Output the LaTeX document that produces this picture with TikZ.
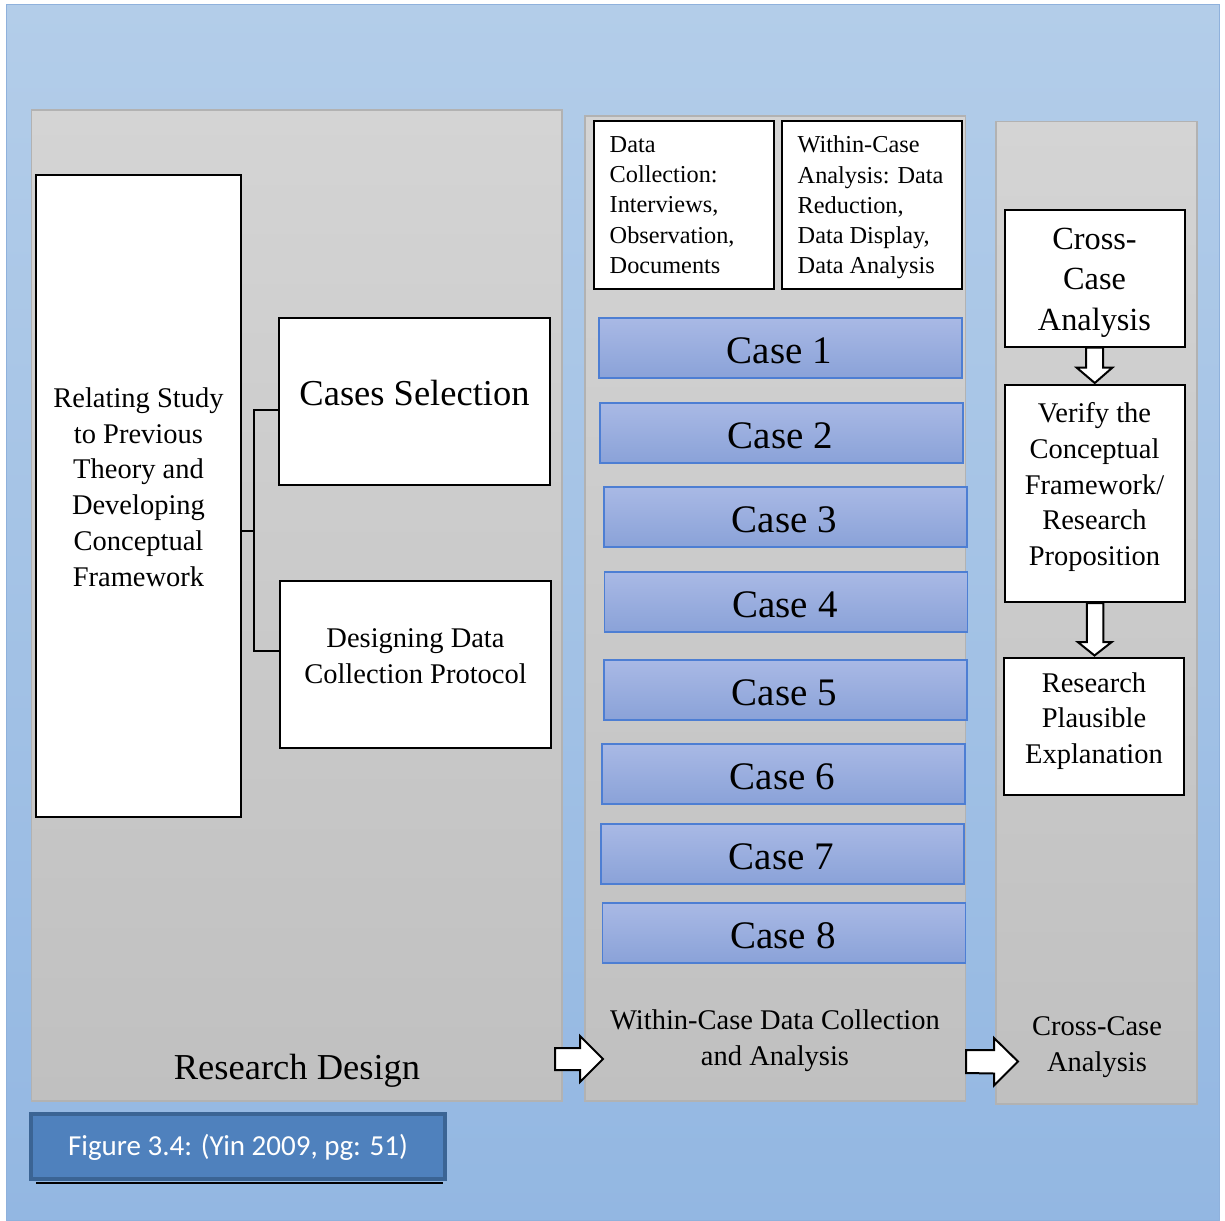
\documentclass[tikz,border=0pt]{standalone}
\usepackage{fontspec}
\setmainfont{Liberation Serif}
\newfontfamily\capfont{Carlito}
\usetikzlibrary{calc}

\definecolor{skyTop}{HTML}{B3CDE9}
\definecolor{skyBot}{HTML}{93B7E2}
\definecolor{skyEdge}{HTML}{8FB1DC}
\definecolor{panelTop}{HTML}{D4D4D4}
\definecolor{panelBot}{HTML}{C0C0C0}
\definecolor{panelEdge}{HTML}{B2B2B2}
\definecolor{caseTop}{HTML}{A9B9E5}
\definecolor{caseBot}{HTML}{8AA2D8}
\definecolor{caseEdge}{HTML}{4D7ED3}
\definecolor{capFill}{HTML}{4F81BD}
\definecolor{capEdge}{HTML}{3B6494}

\begin{document}
\begin{tikzpicture}[x=1pt,y=-1pt,
  backdrop/.style={draw=skyEdge, line width=1pt, top color=skyTop, bottom color=skyBot, inner sep=0pt},
  panel/.style={draw=panelEdge, line width=1.2pt, top color=panelTop, bottom color=panelBot, inner sep=0pt},
  wbox/.style={draw=black, line width=2pt, fill=white, inner sep=0pt},
  casebox/.style={draw=caseEdge, line width=1.2pt, top color=caseTop, bottom color=caseBot,
    inner sep=0pt, minimum width=363, minimum height=60},
  casetext/.style={inner sep=0pt, font=\fontsize{39}{46}\selectfont},
  txt/.style={align=center, inner sep=0pt},
  bodyfont/.style={font=\fontsize{28.5}{35.7}\selectfont},
  smallfont/.style={font=\fontsize{24.3}{30.3}\selectfont},
  bigfont/.style={font=\fontsize{36.5}{44}\selectfont},
  conn/.style={draw=black, line width=1.2pt},
  blockarrow/.style={draw=black, line width=2pt, fill=white, line join=miter},
]
\useasboundingbox (0,0) rectangle (1225,1220);
\fill[white] (0,0) rectangle (1225,1220);

% sky-blue backdrop
\node[backdrop, minimum width=1213, minimum height=1215] (bg) at (612.5,612.5) {};

% three stage panels
\node[panel, minimum width=530.5, minimum height=991] (p1) at (296.75,605.5) {};
\node[panel, minimum width=380.5, minimum height=985] (p2) at (775.25,608.5) {};
\node[panel, minimum width=201, minimum height=982.5] (p3) at (1096.5,612.75) {};

% research design boxes
\node[wbox, minimum width=205, minimum height=642] (rel) at (138.5,496) {};
\node[wbox, minimum width=271, minimum height=167] (cs) at (414.5,401.5) {};
\node[wbox, minimum width=271, minimum height=167] (dd) at (415.5,664.5) {};

% within-case boxes
\node[wbox, minimum width=180, minimum height=168] (dc) at (683.5,205) {};
\node[wbox, minimum width=180, minimum height=167.5] (wc) at (871.5,205.25) {};

% the eight cases
\foreach \n/\x/\y in {1/780.5/348, 2/781.5/433, 3/785.5/517, 4/786/602,
                      5/785.5/690, 6/783.5/774, 7/782.5/854, 8/784/933}{
  \node[casebox] (c\n) at (\x,\y) {};
  \node[casetext] (c\n T) at ($(c\n.center)+(-1,2.5)$) {Case \n};
}

% cross-case boxes
\node[wbox, minimum width=180, minimum height=137] (cc) at (1094.5,278) {};
\node[wbox, minimum width=179.5, minimum height=217.5] (ver) at (1094.75,493.25) {};
\node[wbox, minimum width=180.5, minimum height=137] (pl) at (1093.75,726) {};

% bracket joining the framework box to the two design steps
\coordinate (jt) at (254,410);
\coordinate (jm) at (254,531);
\coordinate (jb) at (254,651);
\draw[conn] (cs.west |- jt) -- (jt) -- (jb) -- (dd.west |- jb);
\draw[conn] (rel.east |- jm) -- (jm);

% block arrows inside the cross-case panel
\draw[blockarrow] ($(cc.south)+(-8.5,0)$) -- ++(0,20) -- ++(-9.5,0)
  -- ($(ver.north)+(0,-0.5)$) -- ($(cc.south)+(18,20)$) -- ++(-9.5,0) -- ($(cc.south)+(8.5,0)$) -- cycle;
\draw[blockarrow] ($(ver.south)+(-8,0)$) -- ++(0,39) -- ++(-9,0)
  -- ($(pl.north)+(0.75,-1)$) -- ($(ver.south)+(17,39)$) -- ++(-8.5,0) -- ($(ver.south)+(8.5,0)$) -- cycle;

% block arrows between the stages
\coordinate (a1) at (555,1059);
\coordinate (a2) at (966,1061.5);
\draw[blockarrow] ($(a1)+(0,-11)$) -- ++(25,0) -- ++(0,-12) -- ($(a1)+(48,0)$)
  -- ($(a1)+(25,23)$) -- ++(0,-12) -- ($(a1)+(0,11)$) -- cycle;
\draw[blockarrow] ($(a2)+(0,-11.5)$) -- ++(28,0) -- ++(0,-12) -- ($(a2)+(52,0)$)
  -- ($(a2)+(28,24)$) -- ++(0,-12) -- ($(a2)+(0,11.5)$) -- cycle;

% texts
\node[txt, bodyfont] (relT) at (138.5,487) {Relating Study\\to Previous\\Theory and\\Developing\\Conceptual\\Framework};
\node[txt, bigfont] (csT) at (414.5,393.5) {Cases Selection};
\node[txt, font=\fontsize{28.5}{36}\selectfont] (ddT) at (415.5,656) {Designing Data\\Collection Protocol};
\node[txt, smallfont, align=left, anchor=west] (dcT) at (609.5,205) {Data\\Collection:\\Interviews,\\Observation,\\Documents};
\node[txt, smallfont, align=left, anchor=west] (wcT) at (797.5,207.5) {Within-Case\\Analysis: Data\\Reduction,\\Data Display,\\Data Analysis};
\node[txt, font=\fontsize{32.3}{40.5}\selectfont] (ccT) at (1094.5,282.5) {Cross-\\Case\\Analysis};
\node[txt, bodyfont] (verT) at (1094.5,487) {Verify the\\Conceptual\\Framework/\\Research\\Proposition};
\node[txt, bodyfont] (plT) at (1094,721) {Research\\Plausible\\Explanation};
\node[txt, bigfont] (rdT) at (297,1071) {Research Design};
\node[txt, font=\fontsize{28.5}{36}\selectfont] (wdT) at (775,1041) {Within-Case Data Collection\\and Analysis};
\node[txt, font=\fontsize{28.5}{36}\selectfont] (cbT) at (1097,1047) {Cross-Case\\Analysis};

% caption tab
\node[draw=capEdge, line width=4pt, fill=capFill, minimum width=414, minimum height=65,
      inner sep=0pt] (cap) at (238,1146.5) {};
\draw[black, line width=1.6pt] ($(cap.south west)+(7,1.8)$) -- ($(cap.south east)+(-4,1.8)$);
\node[inner sep=0pt, text=white, font=\capfont\fontsize{29}{34}\selectfont] (capT)
      at ($(cap.center)+(0,1)$) {Figure 3.4: (Yin 2009, pg: 51)};
\end{tikzpicture}
\end{document}
